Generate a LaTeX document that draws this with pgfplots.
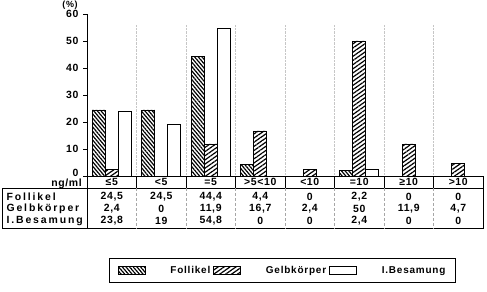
\documentclass[border=0pt]{standalone}
\usepackage{fontspec}
\setmainfont{Liberation Sans}[LetterSpace=6]
\newfontfamily\lab{Liberation Sans}[LetterSpace=18]
\newfontfamily\leg{Liberation Sans}[LetterSpace=8]
\usepackage{pgfplots}
\pgfplotsset{compat=1.18}
\usetikzlibrary{patterns.meta}

\begin{document}
\begin{tikzpicture}[x=1bp,y=1bp,font=\bfseries\fontsize{10.5}{12}\selectfont]
\path[use as bounding box] (0,0) rectangle (487,291);
\begin{axis}[
  at={(87bp,115bp)}, anchor=south west,
  scale only axis, width=396bp, height=162bp,
  xmin=-0.5, xmax=7.5, ymin=0, ymax=60,
  axis y line=left, axis x line=bottom,
  axis line style={-, line width=0.9pt},
  xtick=\empty, ytick={0,10,...,60},
  yticklabels={\raisebox{6bp}{0},10,20,30,40,50,60},
  tick align=outside, major tick length=4bp,
  tick style={line width=0.9pt, black},
  yticklabel style={font=\bfseries\fontsize{10.5}{12}\selectfont, xshift=-1bp},
  /pgf/number format/assume math mode=true,
  ybar=0pt, bar width=0.263,
  clip=false,
  legend style={at={(0.494,-0.583)}, anchor=center, legend columns=3,
    draw=black, line width=0.7pt, inner xsep=8bp, inner ysep=6bp,
    font=\leg\bfseries\fontsize{10}{11}\selectfont,
    /tikz/every even column/.append style={column sep=1bp},
    /tikz/every odd column/.append style={column sep=23bp}},
  legend image code/.code={\draw[#1,line width=0.6pt] (0bp,-4bp) rectangle (27bp,4bp);},
]
\addplot[bar shift=-0.263, draw=black, line width=0.7pt,
  pattern={Lines[angle=-50,distance=2.8bp,line width=1.2bp]}]
  coordinates {(0,24.5)(1,24.5)(2,44.4)(3,4.4)(4,0)(5,2.2)(6,0)(7,0)};
\addplot[bar shift=0, draw=black, line width=0.7pt,
  pattern={Lines[angle=35,distance=3.4bp,line width=1.2bp]}]
  coordinates {(0,2.4)(1,0)(2,11.9)(3,16.7)(4,2.4)(5,50)(6,11.9)(7,4.7)};
\addplot[bar shift=0.263, draw=black, line width=0.7pt, fill=white]
  coordinates {(0,23.8)(1,19)(2,54.8)(3,0)(4,0)(5,2.4)(6,0)(7,0)};
\legend{Follikel, Gelbkörper, I.Besamung}
\pgfplotsinvokeforeach{0.5,1.5,2.5,3.5,4.5,5.5,6.5}{
  \draw[gray!45, densely dotted, line width=0.4pt] (axis cs:#1,0) -- (axis cs:#1,56);
}
\end{axis}
% (%) label
\node[font=\bfseries\fontsize{9}{10}\selectfont] at (70,286) {(\%)};
% header row
\draw[line width=0.9pt] (87,115) rectangle (483,103);
\foreach \k in {1,...,7} {
  \draw[line width=0.6pt] ({87+49.5*\k},115) -- ({87+49.5*\k},103);
}
\node[anchor=east, inner sep=1bp] at (83,107.5) {ng/ml};
\foreach \t [count=\k from 0] in {≤5,<5,=5,>5<10,<10,=10,≥10,>10} {
  \node at ({87+49.5*(\k+0.5)},109) {\t};
}
% data block
\draw[line width=0.9pt] (2,103) rectangle (483,63);
\draw[line width=0.9pt] (87,103) -- (87,63);
\foreach \k in {1,...,7} {
  \draw[gray!70, densely dashed, line width=0.4pt] ({87+49.5*\k},103) -- ({87+49.5*\k},63);
}
\node[anchor=west,font=\lab\bfseries\fontsize{10.5}{12}\selectfont] at (3,94) {Follikel};
\node[anchor=west,font=\lab\bfseries\fontsize{10.5}{12}\selectfont] at (3,82) {Gelbkörper};
\node[anchor=west,font=\lab\bfseries\fontsize{10.5}{12}\selectfont] at (3,70) {I.Besamung};
\foreach \t [count=\k from 0] in {24{,}5,24{,}5,44{,}4,4{,}4,0,2{,}2,0,0} {
  \node at ({87+49.5*(\k+0.5)},94) {\t};
}
\foreach \t [count=\k from 0] in {2{,}4,0,11{,}9,16{,}7,2{,}4,50,11{,}9,4{,}7} {
  \node at ({87+49.5*(\k+0.5)},82) {\t};
}
\foreach \t [count=\k from 0] in {23{,}8,19,54{,}8,0,0,2{,}4,0,0} {
  \node at ({87+49.5*(\k+0.5)},70) {\t};
}
\end{tikzpicture}
\end{document}
